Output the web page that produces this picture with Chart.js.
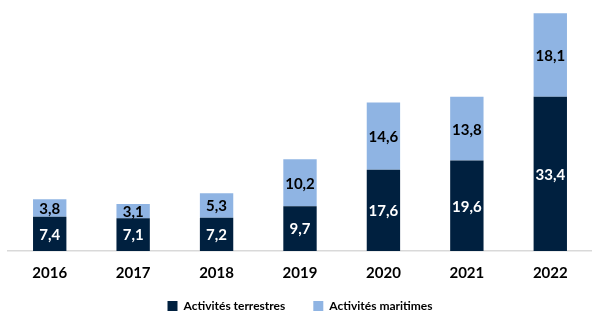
<!DOCTYPE html>
<html>
<head>
<meta charset="utf-8">
<script src="https://cdn.jsdelivr.net/npm/chart.js@4/dist/chart.umd.min.js"></script>
<style>
  html, body { margin: 0; padding: 0; background: #fff; }
  #wrap { width: 592px; height: 312px; }
</style>
</head>
<body>
<div id="wrap"><canvas id="chart"></canvas></div>
<script>
// Données
const annees = ["2016", "2017", "2018", "2019", "2020", "2021", "2022"];
const terrestres = [7.4, 7.1, 7.2, 9.7, 17.6, 19.6, 33.4];
const maritimes = [3.8, 3.1, 5.3, 10.2, 14.6, 13.8, 18.1];

const police = "Lato, 'Open Sans', sans-serif";

// Étiquettes dans les barres (format français)
const etiquettes = {
  id: "etiquettes",
  afterDatasetsDraw(chart) {
    const ctx = chart.ctx;
    ctx.save();
    ctx.font = "bold 15px " + police;
    ctx.textAlign = "center";
    ctx.textBaseline = "middle";
    chart.data.datasets.forEach((ds, i) => {
      const meta = chart.getDatasetMeta(i);
      meta.data.forEach((bar, j) => {
        const { x, y, base } = bar.getProps(["x", "y", "base"], true);
        ctx.fillStyle = i === 0 ? "#ffffff" : "#000000";
        ctx.fillText(ds.data[j].toFixed(1).replace(".", ","), x, (y + base) / 2 + 1);
      });
    });
    ctx.restore();
  }
};

// légende du bas : hauteur fixe, boîte agrandie vers le haut
// (le padding large sert à l'écart horizontal entre les deux entrées)
const legendeCompacte = {
  id: "legendeCompacte",
  beforeInit(chart) {
    const fit = chart.legend.fit;
    chart.legend.fit = function () {
      fit.call(this);
      this.height = 28;
    };
  },
  afterLayout(chart) {
    chart.legend.top -= 12;
  }
};

new Chart(document.getElementById("chart"), {
  type: "bar",
  data: {
    labels: annees,
    datasets: [
      {
        label: "Activités terrestres",
        data: terrestres,
        backgroundColor: "#00203f",
        barPercentage: 0.4,
        categoryPercentage: 1
      },
      {
        label: "Activités maritimes",
        data: maritimes,
        backgroundColor: "#8fb4e3",
        barPercentage: 0.4,
        categoryPercentage: 1
      }
    ]
  },
  options: {
    responsive: true,
    maintainAspectRatio: false,
    animation: false,
    layout: { padding: { left: 8, right: 0, top: 11, bottom: 0 } },
    plugins: {
      tooltip: { enabled: false },
      legend: {
        position: "bottom",
        labels: {
          boxWidth: 10,
          boxHeight: 10,
          padding: 28,
          color: "#000",
          font: { family: police, size: 12, weight: "bold" }
        }
      }
    },
    scales: {
      x: {
        stacked: true,
        grid: { display: false, drawTicks: false },
        border: { display: true, color: "#d9d9d9", width: 1.5 },
        ticks: {
          color: "#000",
          padding: 13,
          font: { family: police, size: 15, weight: "bold" }
        },
        afterFit: (s) => { s.height = 33; }
      },
      y: {
        stacked: true,
        display: false,
        min: 0,
        max: 52
      }
    }
  },
  plugins: [etiquettes, legendeCompacte]
});
</script>
</body>
</html>
